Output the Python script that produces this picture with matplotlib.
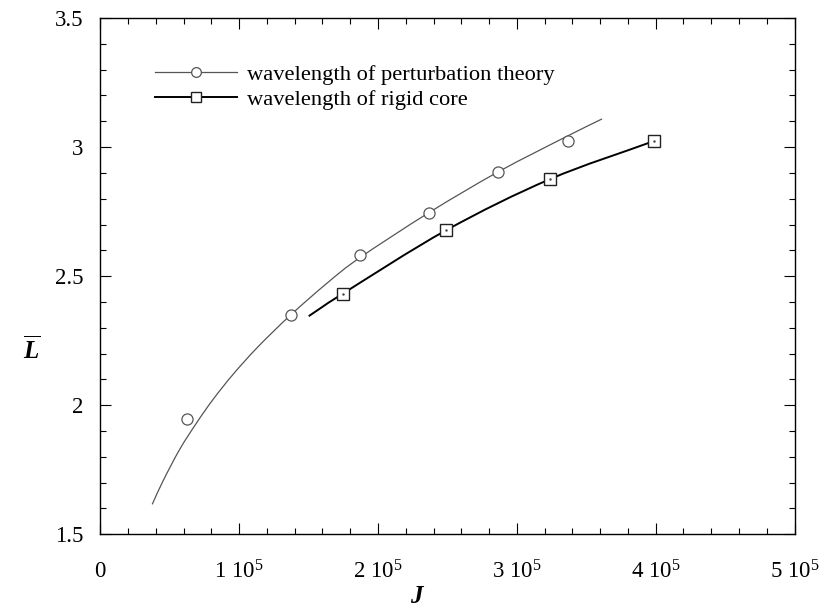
import matplotlib
matplotlib.use("Agg")
import matplotlib.pyplot as plt
from matplotlib.path import Path
from matplotlib.patches import PathPatch
from matplotlib.ticker import MultipleLocator, FixedLocator, FixedFormatter

plt.rcParams['font.family'] = ['Liberation Serif', 'DejaVu Serif']
plt.rcParams['mathtext.fontset'] = 'custom'
plt.rcParams['mathtext.rm'] = 'Liberation Serif'
plt.rcParams['mathtext.it'] = 'Liberation Serif:italic'
plt.rcParams['mathtext.bf'] = 'Liberation Serif:bold'
plt.rcParams['mathtext.bfit'] = 'Liberation Serif:italic:bold'

# Data (J in units of 1e5)
pert_J = [0.626, 1.376, 1.873, 2.369, 2.868, 3.369]
pert_L = [1.945, 2.350, 2.583, 2.745, 2.904, 3.024]

pert_fit_J = [0.374, 0.453, 0.573, 0.694, 0.813, 0.957, 1.137, 1.372, 1.640,
              1.868, 2.367, 2.866, 3.362, 3.614]
pert_fit_L = [1.616, 1.708, 1.830, 1.932, 2.023, 2.120, 2.227, 2.350, 2.476,
              2.571, 2.746, 2.904, 3.042, 3.109]

rigid_J = [1.746, 2.492, 3.240, 3.991]
rigid_L = [2.432, 2.678, 2.876, 3.024]

rigid_line_J = [1.501, 1.746, 2.492, 3.240, 3.991]
rigid_line_L = [2.345, 2.432, 2.678, 2.876, 3.024]

xtick_vals = [0, 1, 2, 3, 4, 5]
xtick_labels = ['0', r'1 10$^5$', r'2 10$^5$', r'3 10$^5$', r'4 10$^5$', r'5 10$^5$']
ytick_vals = [1.5, 2, 2.5, 3, 3.5]
ytick_labels = ['1.5', '2', '2.5', '3', '3.5']


def smooth_path(xs, ys):
    """Catmull-Rom style cubic Bezier path through the given points."""
    n = len(xs)
    verts = [(xs[0], ys[0])]
    codes = [Path.MOVETO]
    def tangent(i):
        a = max(i - 1, 0)
        b = min(i + 1, n - 1)
        return ((xs[b] - xs[a]) / (b - a), (ys[b] - ys[a]) / (b - a))
    for i in range(n - 1):
        t0 = tangent(i)
        t1 = tangent(i + 1)
        h = 1.0 / 3.0
        verts += [(xs[i] + t0[0] * h, ys[i] + t0[1] * h),
                  (xs[i + 1] - t1[0] * h, ys[i + 1] - t1[1] * h),
                  (xs[i + 1], ys[i + 1])]
        codes += [Path.CURVE4] * 3
    return Path(verts, codes)


fig = plt.figure(figsize=(8.19, 6.08), dpi=100)
ax = fig.add_axes([100.3 / 819, (608 - 534.3) / 608, (794.5 - 100.3) / 819, (534.3 - 18) / 608])

gray = '#555555'
ax.add_patch(PathPatch(smooth_path(pert_fit_J, pert_fit_L), facecolor='none',
                       edgecolor=gray, lw=0.9))
ax.plot(pert_J, pert_L, linestyle='none', marker='o', ms=8, mfc='white', mec=gray, mew=0.9)
ax.add_patch(PathPatch(smooth_path(rigid_line_J, rigid_line_L), facecolor='none',
                       edgecolor='black', lw=1.4))
ax.plot(rigid_J, rigid_L, linestyle='none', marker='s', ms=8, mfc='white', mec='#222222', mew=1.0)
ax.plot(rigid_J, rigid_L, linestyle='none', marker='.', ms=1.5, color='#444444')

# Legend handles
h1, = ax.plot([], [], color=gray, lw=0.9, marker='o', ms=7, mfc='white', mec=gray, mew=0.9)
h2, = ax.plot([], [], color='black', lw=1.4, marker='s', ms=7, mfc='white', mec='#222222', mew=1.0)
leg = ax.legend([h1, h2], ['wavelength of perturbation theory', 'wavelength of rigid core'],
                loc='upper left', bbox_to_anchor=(0.066, 0.928), frameon=False,
                handlelength=3.65, handletextpad=0.45, fontsize=16.2, labelspacing=0.2,
                borderaxespad=0)

ax.set_xlim(0, 5)
ax.set_ylim(1.5, 3.5)
ax.xaxis.set_major_locator(FixedLocator(xtick_vals))
ax.xaxis.set_major_formatter(FixedFormatter(xtick_labels))
ax.xaxis.set_minor_locator(MultipleLocator(0.2))
ax.yaxis.set_major_locator(FixedLocator(ytick_vals))
ax.yaxis.set_major_formatter(FixedFormatter(ytick_labels))
ax.yaxis.set_minor_locator(MultipleLocator(0.1))

ax.tick_params(which='both', direction='in', top=True, right=True, width=0.8)
ax.tick_params(which='major', length=8)
ax.tick_params(which='minor', length=4)
ax.tick_params(axis='x', which='major', pad=19, labelsize=16.5)
ax.tick_params(axis='y', which='major', pad=12, labelsize=16.5)
for s in ax.spines.values():
    s.set_linewidth(1.0)

fig.text(418 / 819, 1 - 597 / 608, r'$\mathbfit{J}$', ha='center', va='center', fontsize=18)
fig.text(32 / 819, 1 - 350 / 608, r'$\overline{\mathbfit{L}}$', ha='center', va='center', fontsize=18)

fig.savefig('out.png', dpi=100)
